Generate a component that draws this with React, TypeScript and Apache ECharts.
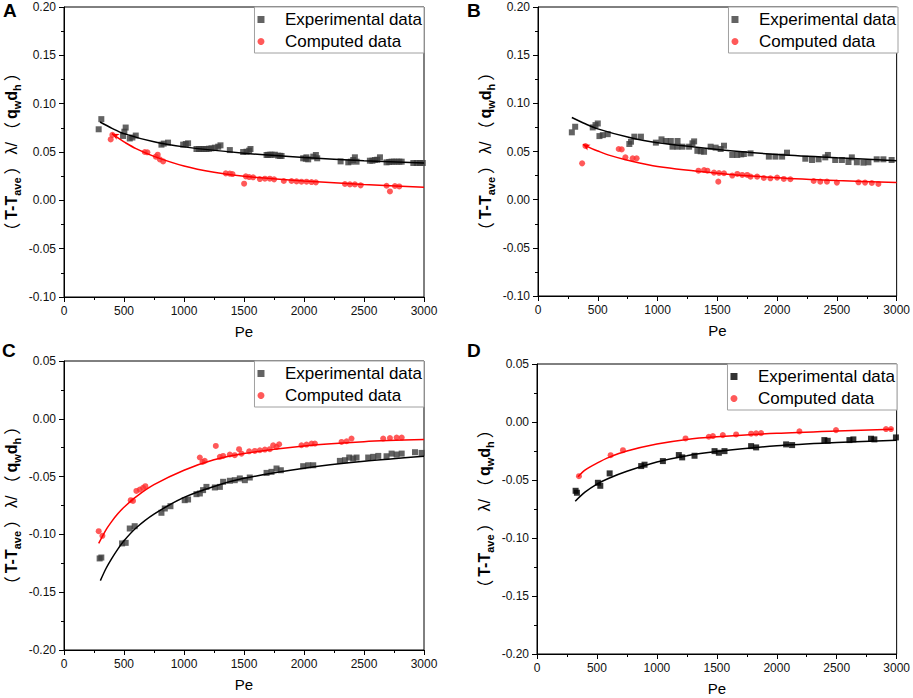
import React, { useEffect, useRef } from "react";
import * as echarts from "echarts";

type P = [number, number];

// Panel A
const expA: P[] = [
  [289, 0.0735], [311, 0.084], [492, 0.0666], [503, 0.071], [514, 0.0753], [548, 0.064], [570, 0.065], [598, 0.067],
  [812, 0.0576], [831, 0.0587], [867, 0.0597], [993, 0.0576], [1015, 0.0583], [1034, 0.059], [1104, 0.0531],
  [1125, 0.0531], [1145, 0.0531], [1166, 0.0531], [1187, 0.0531], [1208, 0.0534], [1229, 0.0538], [1257, 0.0545],
  [1285, 0.0555], [1304, 0.0569], [1382, 0.052], [1493, 0.05], [1521, 0.0503], [1543, 0.0514], [1554, 0.0531],
  [1688, 0.0469], [1700, 0.047], [1715, 0.0472], [1730, 0.0472], [1757, 0.0472], [1785, 0.0462], [1800, 0.046],
  [1813, 0.0459], [1993, 0.0435], [2015, 0.043], [2020, 0.0445], [2035, 0.0424], [2077, 0.0452], [2099, 0.0469],
  [2110, 0.0435], [2305, 0.0403], [2369, 0.0393], [2390, 0.04], [2410, 0.0417], [2424, 0.0445], [2438, 0.04],
  [2549, 0.041], [2570, 0.041], [2591, 0.0417], [2610, 0.042], [2633, 0.0445], [2688, 0.0393], [2710, 0.0397],
  [2730, 0.04], [2750, 0.04], [2772, 0.04], [2795, 0.04], [2814, 0.04], [2911, 0.0386], [2940, 0.0386],
  [2966, 0.0386], [2990, 0.0386],
];
const compA: P[] = [
  [389, 0.063], [403, 0.0677], [673, 0.05], [695, 0.0497], [765, 0.0452], [781, 0.0472], [798, 0.0424], [826, 0.0403],
  [1348, 0.0279], [1382, 0.0276], [1404, 0.0272], [1501, 0.0172], [1515, 0.0248], [1543, 0.0241], [1576, 0.0238],
  [1632, 0.022], [1674, 0.0224], [1715, 0.0224], [1751, 0.0217], [1832, 0.02], [1896, 0.02], [1938, 0.0196],
  [1979, 0.0193], [2021, 0.0193], [2063, 0.0189], [2099, 0.0186], [2341, 0.0169], [2383, 0.0165], [2424, 0.0165],
  [2472, 0.0155], [2688, 0.0151], [2716, 0.0092], [2758, 0.0148], [2794, 0.0144],
];
const expFitA: P[] = [
  [300, 0.081], [400, 0.0745], [500, 0.069], [750, 0.0605], [1000, 0.0553], [1500, 0.0488], [2000, 0.0444],
  [2500, 0.041], [3000, 0.0386],
];
const compFitA: P[] = [
  [400, 0.069], [450, 0.0645], [500, 0.0605], [600, 0.0535], [750, 0.0455], [1000, 0.0355], [1250, 0.029],
  [1500, 0.0248], [2000, 0.02], [2500, 0.0165], [3000, 0.0135],
];

// Panel B
const expB: P[] = [
  [283, 0.0699], [311, 0.0757], [458, 0.075], [481, 0.0774], [500, 0.0791], [514, 0.066], [542, 0.067], [583, 0.068],
  [764, 0.0578], [778, 0.0602], [806, 0.0654], [861, 0.0654], [986, 0.0592], [1033, 0.0626], [1069, 0.0609],
  [1111, 0.0609], [1167, 0.0609], [1125, 0.055], [1166, 0.055], [1208, 0.055], [1264, 0.055], [1292, 0.0585],
  [1306, 0.0605], [1333, 0.0507], [1361, 0.0502], [1389, 0.0497], [1444, 0.055], [1486, 0.054], [1528, 0.0526],
  [1556, 0.056], [1625, 0.0464], [1667, 0.0464], [1700, 0.047], [1722, 0.0474], [1778, 0.0481], [1931, 0.0447],
  [1986, 0.0447], [2042, 0.0447], [2083, 0.0488], [2236, 0.0425], [2292, 0.0412], [2347, 0.0419], [2403, 0.0439],
  [2425, 0.0464], [2486, 0.0412], [2542, 0.0412], [2597, 0.0391], [2625, 0.0439], [2667, 0.0388], [2722, 0.0384],
  [2764, 0.0388], [2833, 0.0419], [2889, 0.0419], [2958, 0.0412],
];
const compB: P[] = [
  [369, 0.0377], [397, 0.0557], [675, 0.0526], [700, 0.0522], [731, 0.044], [792, 0.0429], [825, 0.0429],
  [1342, 0.0301], [1389, 0.0308], [1417, 0.0301], [1472, 0.0281], [1514, 0.0277], [1508, 0.0187], [1556, 0.0274],
  [1625, 0.025], [1667, 0.0267], [1708, 0.0257], [1750, 0.0257], [1778, 0.0239], [1833, 0.0239], [1889, 0.0225],
  [1944, 0.0222], [2000, 0.0229], [2056, 0.0215], [2111, 0.0212], [2306, 0.0194], [2361, 0.0187], [2417, 0.0187],
  [2500, 0.0177], [2681, 0.018], [2736, 0.0177], [2792, 0.0173], [2847, 0.0163],
];
const expFitB: P[] = [
  [283, 0.0853], [400, 0.0785], [500, 0.0735], [750, 0.065], [1000, 0.059], [1500, 0.0522], [2000, 0.0468],
  [2500, 0.0435], [3000, 0.0405],
];
const compFitB: P[] = [
  [375, 0.0574], [450, 0.053], [500, 0.0505], [600, 0.046], [750, 0.041], [1000, 0.0345], [1500, 0.0275],
  [2000, 0.0228], [2500, 0.0198], [3000, 0.0177],
];

// Panel C
const expC: P[] = [
  [297, -0.1208], [311, -0.12], [484, -0.1078], [514, -0.1073], [548, -0.0949], [589, -0.0929], [812, -0.0813],
  [840, -0.0776], [887, -0.0756], [1006, -0.0704], [1034, -0.0698], [1104, -0.0652], [1132, -0.0646], [1159, -0.0617],
  [1187, -0.0589], [1257, -0.0594], [1299, -0.0589], [1326, -0.0545], [1382, -0.0536], [1423, -0.0531], [1465, -0.0516],
  [1507, -0.0531], [1548, -0.0508], [1688, -0.0468], [1729, -0.0459], [1771, -0.043], [1807, -0.0445], [1993, -0.041],
  [2035, -0.0402], [2077, -0.0402], [2299, -0.0364], [2341, -0.0358], [2377, -0.0335], [2410, -0.0344], [2438, -0.0335],
  [2535, -0.0335], [2577, -0.0329], [2619, -0.0321], [2688, -0.0324], [2730, -0.0301], [2772, -0.0309], [2814, -0.0301],
  [2925, -0.0289], [2980, -0.0295],
];
const compC: P[] = [
  [289, -0.0972], [320, -0.1012], [556, -0.0704], [575, -0.071], [603, -0.0624], [631, -0.0612], [659, -0.0597],
  [678, -0.0583], [1132, -0.0335], [1154, -0.0373], [1173, -0.0364], [1265, -0.0235], [1299, -0.0329], [1326, -0.0321],
  [1382, -0.0309], [1423, -0.0315], [1459, -0.0263], [1479, -0.0301], [1543, -0.0281], [1590, -0.0278], [1632, -0.0272],
  [1674, -0.0266], [1715, -0.0263], [1743, -0.0229], [1771, -0.0243], [1793, -0.022], [1979, -0.0229], [2021, -0.0223],
  [2063, -0.0214], [2091, -0.0214], [2313, -0.02], [2355, -0.0194], [2396, -0.0171], [2660, -0.0171], [2716, -0.0166],
  [2772, -0.0162], [2814, -0.0162],
];
const expFitC: P[] = [
  [303, -0.14], [350, -0.1295], [400, -0.1205], [450, -0.1125], [500, -0.1055], [600, -0.0945], [750, -0.0825],
  [1000, -0.068], [1250, -0.0585], [1500, -0.0515], [2000, -0.0428], [2500, -0.0368], [3000, -0.0324],
];
const compFitC: P[] = [
  [289, -0.1078], [350, -0.096], [400, -0.0885], [450, -0.082], [500, -0.0765], [600, -0.0675], [750, -0.057],
  [1000, -0.0445], [1250, -0.0355], [1500, -0.03], [2000, -0.0235], [2500, -0.0198], [3000, -0.018],
];

// Panel D
const expD: P[] = [
  [322, -0.0593], [333, -0.061], [508, -0.0524], [528, -0.055], [606, -0.0443], [869, -0.038], [897, -0.0368],
  [1050, -0.0337], [1183, -0.0285], [1211, -0.0305], [1314, -0.0291], [1481, -0.0251], [1517, -0.0265], [1564, -0.0251],
  [1786, -0.0208], [1828, -0.0219], [2078, -0.0193], [2128, -0.0199], [2397, -0.0156], [2425, -0.0162], [2606, -0.0156],
  [2639, -0.015], [2786, -0.0144], [2814, -0.015], [2994, -0.0133],
];
const compD: P[] = [
  [350, -0.0467], [614, -0.0286], [717, -0.0243], [1239, -0.0142], [1433, -0.0127], [1467, -0.0121], [1550, -0.0113],
  [1661, -0.0107], [1786, -0.0101], [1828, -0.0098], [1869, -0.0096], [2189, -0.0081], [2494, -0.007], [2911, -0.0061],
  [2953, -0.0061],
];
const expFitD: P[] = [
  [319, -0.0683], [400, -0.0605], [500, -0.0535], [600, -0.0485], [750, -0.0425], [1000, -0.0345], [1250, -0.029],
  [1500, -0.0255], [2000, -0.0205], [2500, -0.0177], [3000, -0.0157],
];
const compFitD: P[] = [
  [342, -0.0473], [400, -0.0415], [500, -0.0355], [600, -0.0305], [750, -0.025], [1000, -0.019], [1250, -0.015],
  [1500, -0.0128], [2000, -0.0097], [2500, -0.0077], [2967, -0.0062],
];

const panelLetters = ["A", "B", "C", "D"];
const legendNames = ["Experimental data", "Computed data"];
const yRanges: [number, number][] = [[-0.1, 0.2], [-0.1, 0.2], [-0.2, 0.05], [-0.2, 0.05]];
const xTickMax = 3000;
const xTickStep = 500;
const yTickStep = 0.05;

const FONT = '"Liberation Sans", Arial, Helvetica, sans-serif';

const grids = [
  { left: 64, top: 7, width: 360, height: 290 },
  { left: 538, top: 7, width: 360, height: 289 },
  { left: 64, top: 361, width: 360, height: 289 },
  { left: 537, top: 364, width: 360, height: 290 },
];
const letterPos = [
  [3, 1], [467, 1], [2, 341], [467, 341],
];

export default function App() {
  const ref = useRef<HTMLDivElement>(null);
  useEffect(() => {
    if (!ref.current) return;
    const chart = echarts.init(ref.current, undefined, { renderer: "svg" });
    const panels = [
      { exp: expA, comp: compA, expFit: expFitA, compFit: compFitA, expColor: "#3c3c3c", arrow: 62 },
      { exp: expB, comp: compB, expFit: expFitB, compFit: compFitB, expColor: "#3c3c3c", arrow: 62 },
      { exp: expC, comp: compC, expFit: expFitC, compFit: compFitC, expColor: "#3c3c3c", arrow: null },
      { exp: expD, comp: compD, expFit: expFitD, compFit: compFitD, expColor: "#000000", arrow: null },
    ];
    const yName =
      "{p|（}{b|T-T}{s|ave}{p|）}{l|λ/}{p|（}{b|q}{s|w}{b|d}{s|h}{p|）}";
    const rich = {
      p: {
        fontSize: 17,
        fontFamily: '"Noto Sans CJK SC", sans-serif',
        lineHeight: 22,
        padding: [0, 3, 0, 3],
        color: "#000",
      },
      b: { fontSize: 16, fontWeight: "bold", fontFamily: FONT, lineHeight: 22, color: "#000" },
      s: { fontSize: 11, fontWeight: "bold", fontFamily: FONT, lineHeight: 10, verticalAlign: "bottom", color: "#000" },
      l: { fontSize: 16, fontFamily: FONT, lineHeight: 22, color: "#000" },
    };
    const xAxis = grids.map((_, i) => ({
      type: "value",
      gridIndex: i,
      min: 0,
      max: xTickMax,
      interval: xTickStep,
      name: "Pe",
      nameLocation: "middle",
      nameGap: 27,
      nameTextStyle: { fontSize: 15, fontFamily: FONT, color: "#000" },
      axisLine: { show: true, onZero: false, lineStyle: { color: "#000", width: 1 } },
      axisTick: { show: true, inside: false, length: 5, lineStyle: { color: "#000" } },
      minorTick: { show: true, splitNumber: 2, length: 3, lineStyle: { color: "#000" } },
      splitLine: { show: false },
      axisLabel: {
        fontSize: 12,
        fontFamily: FONT,
        color: "#111",
        margin: 8,
        formatter: (v: number) => String(v),
      },
    }));
    const yAxis = grids.map((_, i) => ({
      type: "value",
      gridIndex: i,
      min: yRanges[i][0],
      max: yRanges[i][1],
      interval: yTickStep,
      name: yName,
      nameLocation: "middle",
      nameRotate: 90,
      nameGap: 42,
      nameTextStyle: { rich },
      axisLine: { show: true, onZero: false, lineStyle: { color: "#000", width: 1 } },
      axisTick: { show: true, inside: false, length: 5, lineStyle: { color: "#000" } },
      minorTick: { show: true, splitNumber: 2, length: 3, lineStyle: { color: "#000" } },
      splitLine: { show: false },
      axisLabel: {
        fontSize: 12,
        fontFamily: FONT,
        color: "#111",
        margin: 8,
        formatter: (v: number) => v.toFixed(2),
      },
    }));
    const series: any[] = [];
    panels.forEach((p, i) => {
      series.push({
        type: "scatter",
        name: legendNames[0],
        xAxisIndex: i,
        yAxisIndex: i,
        symbol: "rect",
        symbolSize: 6,
        itemStyle: { color: p.expColor },
        data: p.exp,
      });
      series.push({
        type: "scatter",
        name: legendNames[1],
        xAxisIndex: i,
        yAxisIndex: i,
        symbol: "circle",
        symbolSize: 6,
        itemStyle: { color: "#ff3030" },
        data: p.comp,
      });
      series.push({
        type: "line",
        name: "fitExp" + i,
        xAxisIndex: i,
        yAxisIndex: i,
        smooth: 0.3,
        symbol: "none",
        lineStyle: { color: "#000", width: 1.5 },
        data: p.expFit,
        z: 3,
      });
      series.push({
        type: "line",
        name: "fitComp" + i,
        xAxisIndex: i,
        yAxisIndex: i,
        smooth: 0.3,
        symbol: "none",
        showSymbol: true,
        itemStyle: { color: "#ff0000" },
        lineStyle: { color: "#ff0000", width: 1.5 },
        data: p.compFit.map((d, k) =>
          k === 0 && p.arrow !== null
            ? { value: d, symbol: "arrow", symbolSize: [5, 7], symbolRotate: p.arrow }
            : d
        ),
        z: 3,
      });
    });
    const legend = grids.map((g, i) => ({
      orient: "vertical",
      right: 913 - (g.left + g.width),
      top: g.top,
      padding: [4, 2, 3, 3],
      itemGap: 5,
      itemWidth: 38,
      itemHeight: 7,
      symbolKeepAspect: true,
      borderColor: "#a0a0a0",
      borderWidth: 1,
      backgroundColor: "#fff",
      selectedMode: false,
      textStyle: { fontSize: 17, fontFamily: FONT, color: "#000" },
      data: [
        { name: legendNames[0], icon: "path://M0,0H1V1H0Z", itemStyle: { color: panels[i].expColor } },
        { name: legendNames[1], icon: "circle", itemStyle: { color: "#ff3030" } },
      ],
    }));
    const graphic = panelLetters.map((t, i) => ({
      type: "text",
      left: letterPos[i][0],
      top: letterPos[i][1],
      style: { text: t, fontSize: 19, fontWeight: "bold", fontFamily: FONT, fill: "#000" },
    }));
    chart.setOption({
      animation: false,
      backgroundColor: "#fff",
      grid: grids.map((g) => ({ ...g, show: true, borderColor: "#000", borderWidth: 1, backgroundColor: "transparent" })),
      xAxis,
      yAxis,
      legend,
      series,
      graphic,
    });
    return () => chart.dispose();
  }, []);
  return (
    <div
      ref={ref}
      style={{ position: "fixed", left: 0, top: 0, width: 913, height: 698, background: "#fff" }}
    />
  );
}
